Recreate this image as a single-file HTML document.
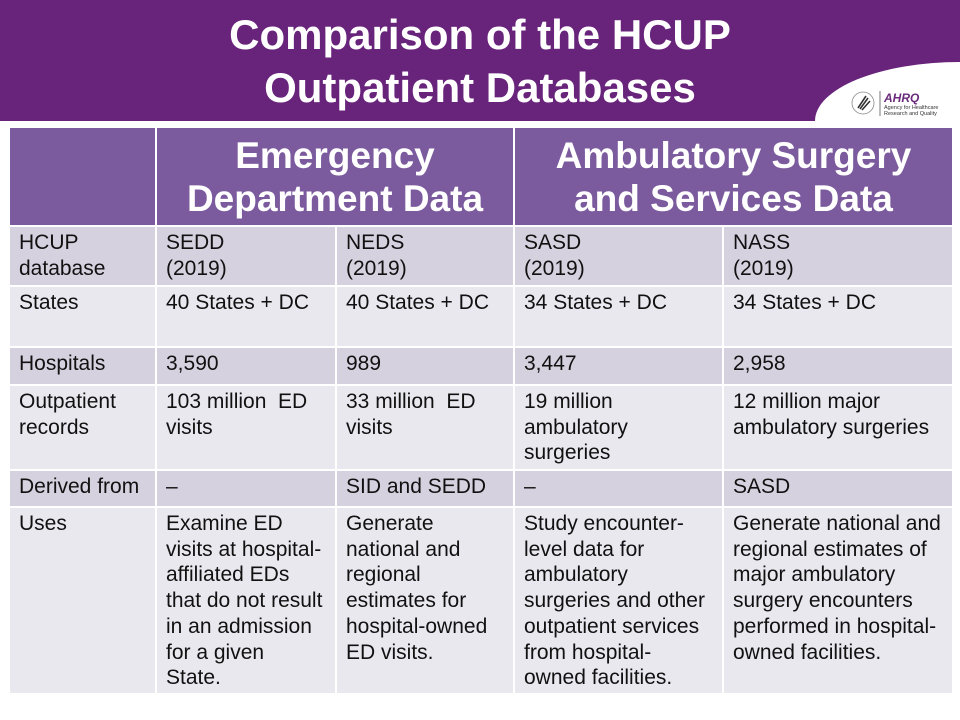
<!DOCTYPE html>
<html><head><meta charset="utf-8"><style>
body{margin:0;width:960px;height:720px;overflow:hidden;background:#fff;font-family:"Liberation Sans",sans-serif;position:relative}
#clip{position:absolute;left:0;top:0;width:960px;height:720px;overflow:hidden}
#band{position:absolute;left:0;top:0;width:960px;height:121px;background:#68237b}
#title{position:absolute;left:0;top:8px;width:960px;text-align:center;color:#fff;font-weight:bold;font-size:42px;line-height:53px}
#curve{position:absolute;left:815px;top:62px;width:145px;height:59px;border-top-left-radius:145px 59px;background:#fff}
#logo{position:absolute;left:850px;top:88px;width:105px;height:30px}
table{position:absolute;left:8px;top:126px;border-collapse:collapse;table-layout:fixed}
td{border:2px solid #fff;vertical-align:top;font-size:21px;line-height:25.7px;color:#111;padding:3px 4px 0 9px;white-space:nowrap}
tr.h td{background:#7b5b9e;color:#fff;font-weight:bold;font-size:37px;line-height:43px;text-align:center;vertical-align:middle;padding:0}
tr.d td{background:#d6d1df}
tr.l td{background:#eae8ef}
</style></head><body>
<div id="clip">
<div id="band"></div>
<div id="curve"></div>
<div id="title">Comparison of the HCUP<br>Outpatient Databases</div>
<svg id="logo" viewBox="0 0 105 30">
<circle cx="13" cy="15" r="11" fill="none" stroke="#888" stroke-width="0.8"/>
<path d="M8 20 L16 8 M10 21 L18 10 M12 22 L20 13" stroke="#333" stroke-width="1.6"/>
<line x1="30" y1="3" x2="30" y2="28" stroke="#555" stroke-width="0.8"/>
<text x="34" y="14" font-family="Liberation Sans" font-weight="bold" font-style="italic" font-size="12" fill="#6a2a7a">AHRQ</text>
<text x="34" y="21" font-family="Liberation Sans" font-size="5.5" fill="#333">Agency for Healthcare</text>
<text x="34" y="27" font-family="Liberation Sans" font-size="5.5" fill="#333">Research and Quality</text>
</svg>
<table>
<colgroup><col style="width:147px"><col style="width:180px"><col style="width:178px"><col style="width:209px"><col style="width:230px"></colgroup>
<tr class="h" style="height:99px"><td></td><td colspan="2">Emergency<br>Department Data</td><td colspan="2">Ambulatory Surgery<br>and Services Data</td></tr>
<tr class="d" style="height:60px"><td>HCUP<br>database</td><td>SEDD<br>(2019)</td><td>NEDS<br>(2019)</td><td>SASD<br>(2019)</td><td>NASS<br>(2019)</td></tr>
<tr class="l" style="height:61px"><td>States</td><td>40 States + DC</td><td>40 States + DC</td><td>34 States + DC</td><td>34 States + DC</td></tr>
<tr class="d" style="height:38px"><td>Hospitals</td><td>3,590</td><td>989</td><td>3,447</td><td>2,958</td></tr>
<tr class="l" style="height:85px"><td>Outpatient<br>records</td><td>103 million&nbsp; ED<br>visits</td><td>33 million&nbsp; ED<br>visits</td><td>19 million<br>ambulatory<br>surgeries</td><td>12 million major<br>ambulatory surgeries</td></tr>
<tr class="d" style="height:37px"><td>Derived from</td><td>–</td><td>SID and SEDD</td><td>–</td><td>SASD</td></tr>
<tr class="l" style="height:187px"><td>Uses</td><td>Examine ED<br>visits at hospital-<br>affiliated EDs<br>that do not result<br>in an admission<br>for a given<br>State.</td><td>Generate<br>national and<br>regional<br>estimates for<br>hospital-owned<br>ED visits.</td><td>Study encounter-<br>level data for<br>ambulatory<br>surgeries and other<br>outpatient services<br>from hospital-<br>owned facilities.</td><td>Generate national and<br>regional estimates of<br>major ambulatory<br>surgery encounters<br>performed in hospital-<br>owned facilities.</td></tr>
</table>
</div>
</body></html>
